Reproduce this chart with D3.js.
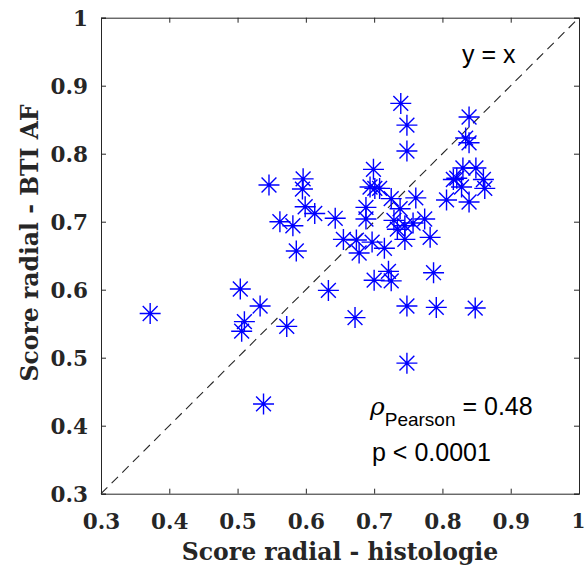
<!DOCTYPE html>
<html><head><meta charset="utf-8">
<script src="https://cdn.jsdelivr.net/npm/d3@7"></script>
<style>body{margin:0;background:#fff}</style>
</head><body>
<script>
const xVals = [0.372,0.504,0.533,0.510,0.506,0.538,0.572,0.546,0.562,0.581,0.586,0.596,0.595,0.599,0.613,0.643,0.633,0.655,0.674,0.678,0.672,0.699,0.694,0.701,0.708,0.688,0.688,0.697,0.715,0.725,0.738,0.729,0.734,0.745,0.745,0.757,0.761,0.774,0.782,0.721,0.725,0.700,0.787,0.748,0.791,0.848,0.748,0.739,0.748,0.748,0.839,0.834,0.839,0.830,0.849,0.821,0.816,0.860,0.828,0.862,0.806,0.839];
const yVals = [0.565,0.601,0.576,0.553,0.539,0.432,0.546,0.754,0.700,0.694,0.657,0.763,0.748,0.722,0.712,0.705,0.599,0.674,0.673,0.654,0.559,0.777,0.751,0.749,0.749,0.721,0.704,0.670,0.661,0.734,0.719,0.702,0.689,0.694,0.674,0.698,0.735,0.704,0.677,0.627,0.613,0.614,0.625,0.576,0.574,0.573,0.492,0.874,0.842,0.804,0.854,0.823,0.816,0.779,0.779,0.764,0.762,0.762,0.751,0.749,0.732,0.729];
const tickVals = [0.3,0.4,0.5,0.6,0.7,0.8,0.9,1];
const tickLabels = ["0.3","0.4","0.5","0.6","0.7","0.8","0.9","1"];
const xLabel = "Score radial - histologie";
const yLabel = "Score radial - BTI AF";
const identityLabel = "y = x";
const rhoValue = "0.48";
const pText = "p < 0.0001";

const W = 585, H = 573;
const x = d3.scaleLinear().domain([0.3,1]).range([101,579]);
const y = d3.scaleLinear().domain([0.3,1]).range([493.7,17.7]);
const svg = d3.select("body").append("svg").attr("width",W).attr("height",H);
const axisCol = "#262626";
const tickFont = "'DejaVu Serif', serif";
const fmt = d => tickLabels[tickVals.indexOf(d)];

// identity line
svg.append("line")
  .attr("x1",x(0.3)).attr("y1",y(0.3)).attr("x2",x(1)).attr("y2",y(1))
  .attr("stroke","#262626").attr("stroke-width",1.1).attr("stroke-dasharray","9,6");

// axes
const gx = svg.append("g").attr("transform",`translate(0,${y(0.3)})`)
  .call(d3.axisBottom(x).tickValues(tickVals).tickFormat(fmt).tickSize(-5).tickPadding(20));
const gy = svg.append("g").attr("transform",`translate(${x(0.3)},0)`)
  .call(d3.axisLeft(y).tickValues(tickVals).tickFormat(fmt).tickSize(-5).tickPadding(13));
const gt = svg.append("g").attr("transform",`translate(0,${y(1)})`)
  .call(d3.axisTop(x).tickValues(tickVals).tickFormat("").tickSize(-5));
const gr = svg.append("g").attr("transform",`translate(${x(1)},0)`)
  .call(d3.axisRight(y).tickValues(tickVals).tickFormat("").tickSize(-5));
[gx,gy,gt,gr].forEach(g=>{
  g.selectAll("path.domain").attr("stroke",axisCol).attr("stroke-width",1);
  g.selectAll(".tick line").attr("stroke",axisCol);
  g.selectAll(".tick text").attr("fill",axisCol).attr("font-family",tickFont)
   .attr("font-weight","bold").attr("font-size",21.5);
});
gy.selectAll(".tick text").attr("dy","0.36em");
gx.selectAll(".tick text").filter(d => d === 1).attr("dx",-1).attr("text-anchor","middle")
  .attr("font-size",20);

// axis labels
svg.append("text").attr("x",(x(0.3)+x(1))/2).attr("y",560)
  .attr("text-anchor","middle").attr("font-family",tickFont).attr("font-weight","bold")
  .attr("font-size",23.5).attr("fill",axisCol).text(xLabel);
svg.append("text").attr("transform",`translate(38,243) rotate(-90)`)
  .attr("text-anchor","middle").attr("font-family",tickFont).attr("font-weight","bold")
  .attr("font-size",23.5).attr("fill",axisCol).text(yLabel);

// markers
const r = 10.5, d = r*Math.SQRT1_2;
const star = `M${-r},0L${r},0M0,${-r}L0,${r}M${-d},${-d}L${d},${d}M${-d},${d}L${d},${-d}`;
svg.append("g").selectAll("path").data(xVals.map((v,i)=>[v,yVals[i]])).join("path")
  .attr("transform",p=>`translate(${x(p[0])},${y(p[1])})`)
  .attr("d",star).attr("stroke","#0000ff").attr("stroke-width",1.4).attr("fill","none");

// annotations
const sans = "'Liberation Sans', Arial, sans-serif";
svg.append("text").attr("x",462).attr("y",63).attr("font-family",sans).attr("font-size",25)
  .attr("fill","#000").text(identityLabel);
const t = svg.append("text").attr("x",370).attr("y",415).attr("font-family",sans).attr("font-size",25).attr("fill","#000");
t.append("tspan").attr("font-family","'DejaVu Serif', serif").attr("font-style","italic").text("ρ");
t.append("tspan").attr("dy",11).attr("font-size",19).text("Pearson");
t.append("tspan").attr("dy",-11).text(" = " + rhoValue);
svg.append("text").attr("x",372).attr("y",461).attr("font-family",sans).attr("font-size",25)
  .attr("fill","#000").text(pText);
</script>
</body></html>
